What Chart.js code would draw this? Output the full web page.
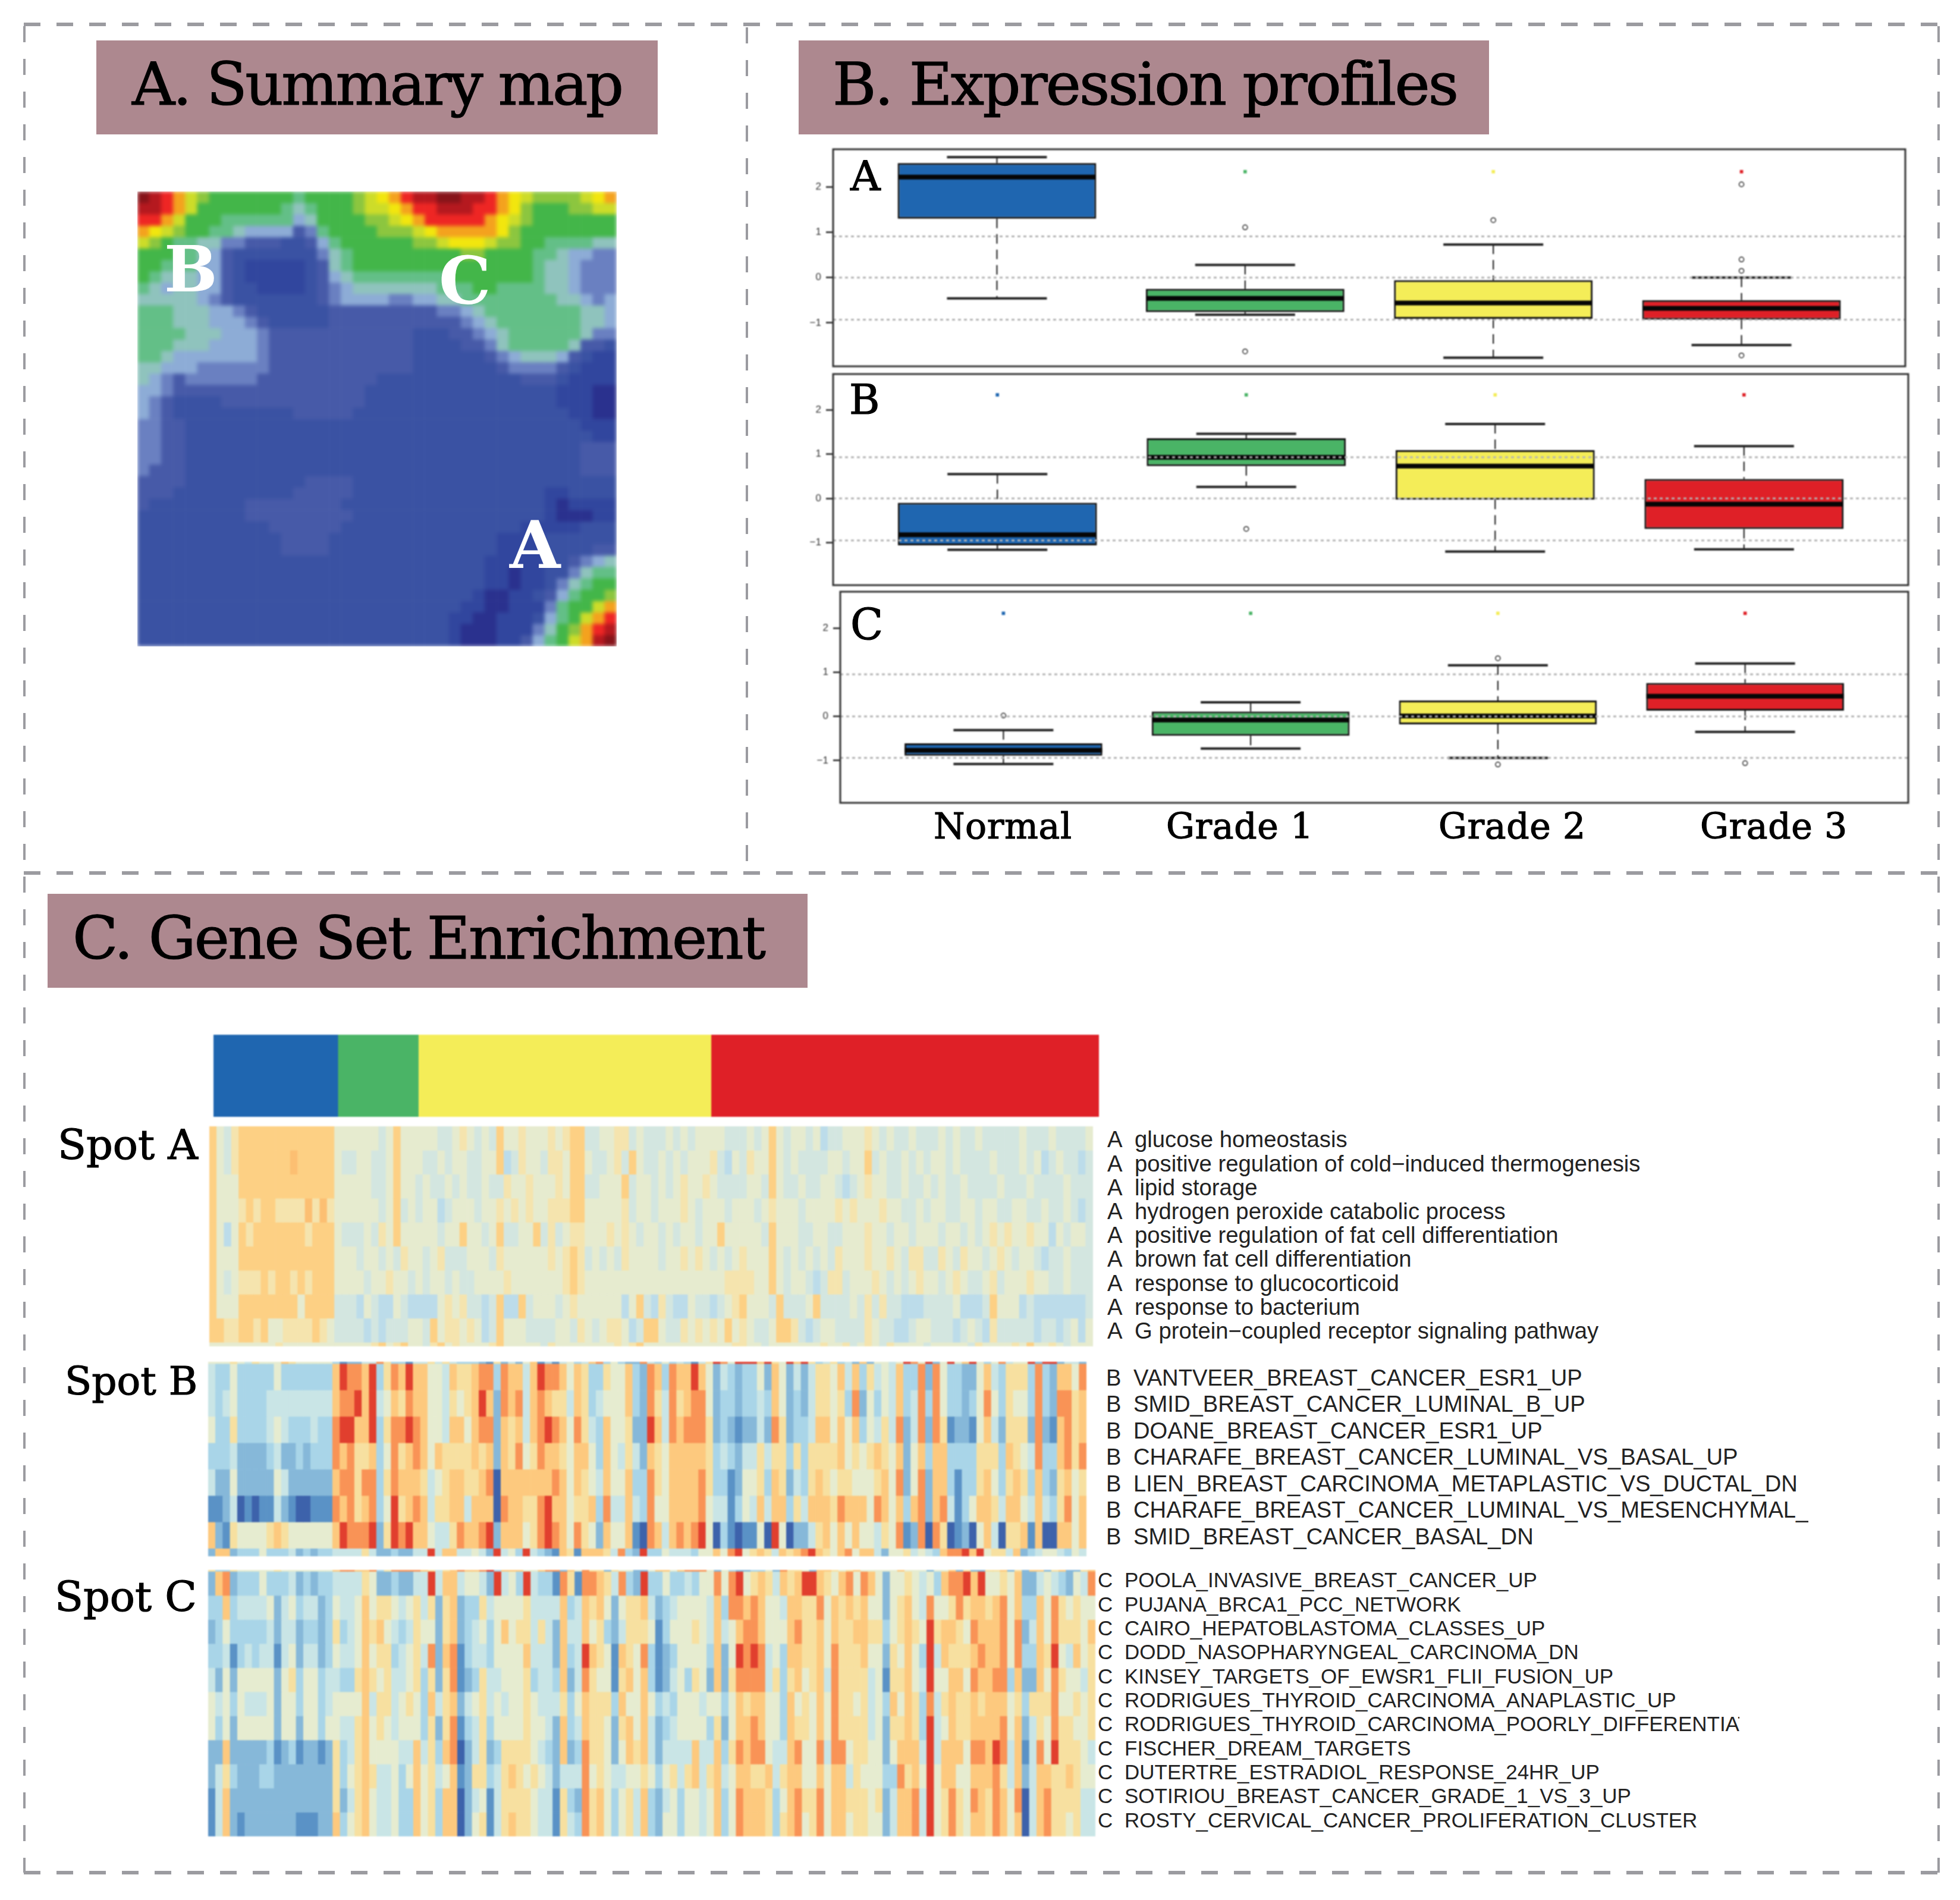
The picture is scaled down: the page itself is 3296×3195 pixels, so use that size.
<!DOCTYPE html>
<html>
<head>
<meta charset="utf-8">
<title>Summary map, expression profiles, gene set enrichment</title>
<script src="https://cdn.jsdelivr.net/npm/chart.js@4"></script>
<style>
  html, body { margin: 0; background: #fff; }
  #page { position: relative; width: 3296px; height: 3195px; overflow: hidden; background: #fff; }
  #page canvas { position: absolute; display: block; filter: blur(1px); }
  #page #mapClip { position: absolute; overflow: hidden; }
  #page #mapClip canvas { filter: blur(3px); }
  #page svg { position: absolute; left: 0; top: 0; }
  .lbl { position: absolute; white-space: nowrap; line-height: 1; color: #000; }
  .serif { font-family: "DejaVu Serif", serif; -webkit-text-stroke: 1.2px #000; }
  .sans { font-family: "Liberation Sans", Arial, sans-serif; color: #222; }
  .band { position: absolute; background: #ad888f; }
</style>
</head>
<body>
<div id="page">
  <svg width="3296" height="3195">
    <g stroke="#9b9ba0" fill="none">
      <path d="M40 41H3260" stroke-width="6" stroke-dasharray="28 27"/>
      <path d="M40 1468H3260" stroke-width="6" stroke-dasharray="28 27"/>
      <path d="M40 3149H3260" stroke-width="6" stroke-dasharray="28 27"/>
      <path d="M41 44V3149" stroke-width="4" stroke-dasharray="27 28"/>
      <path d="M3260 44V3149" stroke-width="4" stroke-dasharray="27 28"/>
      <path d="M1256 46V1468" stroke-width="4" stroke-dasharray="27 28"/>
    </g>
  </svg>
  <div id="mapClip" style="left:231px;top:322px;width:806px;height:765px"></div>
</div>
<script>
// ---- data ----
const groups = ['Normal', 'Grade 1', 'Grade 2', 'Grade 3'];
const groupColors = ['#1f66b0', '#4ab466', '#f4ed58', '#df2027'];
const groupSamples = [17, 11, 40, 53];
const yTicks = [-1, 0, 1, 2];

// expression profiles, one array per statistic
const hiA = [2.66, 0.28, 0.73, 0.0];
const q3A = [2.53, -0.25, -0.06, -0.5];
const medA = [2.22, -0.46, -0.56, -0.68];
const q1A = [1.30, -0.76, -0.91, -0.93];
const loA = [-0.46, -0.82, -1.77, -1.49];
const outA = [[2, 1.11], [2, -1.63], [3, 1.27], [4, 2.06], [4, 0.4], [4, 0.15], [4, -1.72]];
const refA = [0.91, 0, -0.93];

const hiB = [0.55, 1.46, 1.68, 1.18];
const q3B = [-0.10, 1.36, 1.09, 0.44];
const medB = [-0.82, 0.93, 0.73, -0.13];
const q1B = [-1.06, 0.73, -0.03, -0.69];
const loB = [-1.16, 0.26, -1.20, -1.15];
const outB = [[2, -0.69]];
const refB = [0.93, 0, -0.95];

const hiC = [-0.31, 0.32, 1.16, 1.2];
const q3C = [-0.61, 0.11, 0.36, 0.76];
const medC = [-0.77, -0.08, 0.01, 0.46];
const q1C = [-0.89, -0.44, -0.18, 0.13];
const loC = [-1.08, -0.73, -0.94, -0.35];
const outC = [[1, 0.02], [3, 1.32], [3, -1.09], [4, -1.06]];
const refC = [0.955, 0, -0.94];

// summary map, 40 x 40, hex digit = colour level
const mapRows = [
  'fedca98888 888788889a bcdeeffeed cba9999abc',
  'eedca88888 887678889a abcddeeedd cb988899aa',
  'ddca888777 7775688889 9abcdddddc ba98888888',
  'cba9887765 5553478888 999abccccc b988888888',
  'a987766443 3322357888 88899abbba 9988777766',
  '8887765322 2222246788 8888888998 8887765544',
  '8877755321 1111236788 8888888888 8887665444',
  '8766655321 1111235677 7777778888 8887665444',
  '7656655322 1111234566 6666677788 7777665444',
  '6666654322 2222234555 5445566777 7777766545',
  '7776665543 2222223333 3333344567 7777777665',
  '7776665554 3222223333 3333333456 7777777665',
  '7777666555 4333333333 3332223345 6777777644',
  '7776665555 4333333333 3332222334 6777776332',
  '7765555555 4333333333 3332222223 4566653211',
  '6655544444 4333333333 3332222222 3444432111',
  '6543444444 3333333333 2222222222 2233321111',
  '5543333333 3333333332 2222222222 2222211100',
  '5432222333 3333333332 2222222222 2222211100',
  '5432222222 2223333322 2222222222 2222221100',
  '4433222222 2222222222 2222222222 2222222111',
  '4433222222 2222222222 2222222222 2222222211',
  '4433222222 2222222222 2222222222 2222222333',
  '4433222222 2222222222 2222222222 2222222333',
  '4333222222 2222222222 2222222222 2222222333',
  '3333222222 2222333322 2222222222 2222222222',
  '3332222222 2223333322 2222222222 2222112222',
  '3222222223 3333333222 2222222222 2222101111',
  '2222222223 3333333322 2222222222 2222100011',
  '2222222222 2333333222 2222222222 2211111222',
  '2222222222 2233332222 2222222222 1111222222',
  '2222222222 2233332222 2222222222 1111222233',
  '2222222222 2222222222 2222222221 1111223456',
  '2222222222 2222222222 2222222221 1011224677',
  '2222222222 2222222222 2222222221 1011246788',
  '2222222222 2222222222 2222222210 0112357889',
  '2222222222 2222222222 2222222110 01114788ac',
  '2222222222 2222222222 2222221100 1112578acd',
  '2222222222 2222222222 2222221000 1114689cde',
  '2222222222 2222222222 2222221000 113578acef'
];

// spot heatmaps, one string per row, digit = level from blue (0) to red (9)
const spotARows = [
  '7546777777 7777777555 5554575555 5445654547 5565556567 7445566454 4454545555 4445457545 5453445556 5454454445 4544544444 5444544445',
  '7546777777 7877777544 5544575554 4545544557 3465546657 7544564754 4545455564 3546557545 4444554557 4544545455 4544445444 5453454434',
  '7555777777 7777777555 5544575545 4454544544 6556555657 7445557455 4545655654 4445547544 5445543456 5544544545 4454444544 4544445444',
  '7555676776 6668686555 5554574545 5345554556 5656556667 7555556455 4555654555 4555456555 4555565655 5655445455 4455455445 5445445434',
  '7535767777 7776777544 4546575555 5455755457 4455746456 6555656545 5454554557 5555547555 4455445556 5545545554 5545456565 5655354554',
  '7555777777 7777777555 4554546554 5644455546 5555556567 6454546555 5455656545 4565557545 4545465556 5565466446 5465545654 5543445444',
  '7545666767 7676777555 5455655454 5545445555 6555555567 6555555555 5555555555 6666557545 5434664555 6545456554 5654456455 5655445444',
  '7555777777 7757777444 3543354333 3565644347 3374555456 5555553574 3643354434 5675554744 4574444546 4644333444 4533347555 3433333334',
  '7766776755 6666765444 4343444554 7566565347 5554444554 6545665347 7544656565 7565445776 4345544446 5443345544 4345436444 4434434535',
  '5555555556 5555555555 5567567554 6756555567 5555546555 5555565675 5555555555 5665545555 5556556456 5465555455 5554655556 5755654555'
];
const spotBRows = [
  '5556546555 7655555312 2448633144 6464333216 2425713145 3478353228 4353431469 8599979659 7963463427 2554598592 5957953584 5592992442',
  '4335333335 3333333798 8793687977 5547667883 8774798875 7633655732 8738779752 4323352752 4246657473 6454733828 5332257436 6638327758',
  '4345333344 4444444788 9794576877 5546567972 8784787664 7634555732 8648678852 3323343752 3246656382 5354734838 5332358536 5538328867',
  '5336333345 4333433899 7793688987 5547757882 7674789875 8643755622 9748788862 3212242862 3347757573 5464824828 6122157426 6628217867',
  '3334222234 2232333878 6673586787 5766667672 7685687765 7753754642 7657777763 4324464663 6366667565 6765725737 7333366637 6548337868',
  '4225222225 4222222788 6883687776 4567766780 7777777875 7654755733 8657777863 3125563762 4367656655 5675825827 7313367536 7637326756',
  '1124010114 2100111878 6783596787 4667747770 8776689775 6673844743 8557777854 4135474773 6477768777 5875737827 8413577647 7547436857',
  '7216555567 6555555798 8892698977 5446877892 7775689875 8652755710 8747878950 3101150950 2246757575 5465812808 6012057406 6717007757',
  '2772333533 3423233444 4642232244 9477445429 4539432176 1777648329 3354443557 5895676476 7897657857 7425564543 7889795664 7234554354'
];
const spotCRows = [
  '6336555556 5555555788 7783688887 6467877893 7775578827 5866265522 5775788852 5322335286 6527765675 5555755525 5726226672 6277267226 7',
  '2782333533 3423233444 4652232244 9477455429 4539433186 1887648329 3353343558 5895676476 7997657858 7525565453 7889795565 7224543254 8',
  '3373444452 4534423544 5756654564 6267233645 5556444473 4767525667 4234555547 3887875547 7668576767 5525675485 5686776785 7337586565 5',
  '2353333342 4423323634 5767543465 5267234535 7566464274 4756324666 5135556547 4578875557 8667576677 6635676596 7765877785 8247586665 7',
  '3341343441 4524423544 5756634564 8278134435 5557444273 4976517658 3123555537 2598984537 7667586667 5526575394 7666787785 8337695475 6',
  '4252555552 5635534433 6765644563 6268123644 5556344372 4865516757 3124536527 2688884636 7567486666 4516675495 5775877883 7227586554 6',
  '5453544452 5535534555 5746645653 7467245645 4556544463 5766637557 5343555455 3576775537 5657586656 4537576384 6766767775 6366685565 6',
  '5352555552 5525535544 6756545553 6268134635 5556554273 4766526757 4234555536 2577875537 6657586666 4526676394 5766777785 7246586655 6',
  '2272222231 2312212634 6755554474 6378024623 6666543272 3866525767 4244447447 3687885447 8558488566 5525777494 7775887984 7148596665 4',
  '2463222332 2222222635 6764453575 6457126634 6765654244 4856544556 5356467467 4577667467 7557577465 5533867595 7755777864 7247766765 5',
  '1472222222 2222222624 6754453375 6377024514 6666544163 2867535647 3245355457 3587776357 8668577666 5624778495 6865876875 8047866664 4',
  '1472122222 2211122735 6754453375 6377025614 6766544164 3867535647 3255355457 3587776367 8568577566 5524778495 6865776875 7047866564 4'
];

const spotALabels = ['glucose homeostasis', 'positive regulation of cold\u2212induced thermogenesis', 'lipid storage',
  'hydrogen peroxide catabolic process', 'positive regulation of fat cell differentiation', 'brown fat cell differentiation',
  'response to glucocorticoid', 'response to bacterium', 'G protein\u2212coupled receptor signaling pathway'];
const spotBLabels = ['VANTVEER_BREAST_CANCER_ESR1_UP', 'SMID_BREAST_CANCER_LUMINAL_B_UP', 'DOANE_BREAST_CANCER_ESR1_UP',
  'CHARAFE_BREAST_CANCER_LUMINAL_VS_BASAL_UP', 'LIEN_BREAST_CARCINOMA_METAPLASTIC_VS_DUCTAL_DN',
  'CHARAFE_BREAST_CANCER_LUMINAL_VS_MESENCHYMAL_', 'SMID_BREAST_CANCER_BASAL_DN'];
const spotCLabels = ['POOLA_INVASIVE_BREAST_CANCER_UP', 'PUJANA_BRCA1_PCC_NETWORK', 'CAIRO_HEPATOBLASTOMA_CLASSES_UP',
  'DODD_NASOPHARYNGEAL_CARCINOMA_DN', 'KINSEY_TARGETS_OF_EWSR1_FLII_FUSION_UP', 'RODRIGUES_THYROID_CARCINOMA_ANAPLASTIC_UP',
  'RODRIGUES_THYROID_CARCINOMA_POORLY_DIFFERENTIAT', 'FISCHER_DREAM_TARGETS', 'DUTERTRE_ESTRADIOL_RESPONSE_24HR_UP',
  'SOTIRIOU_BREAST_CANCER_GRADE_1_VS_3_UP', 'ROSTY_CERVICAL_CANCER_PROLIFERATION_CLUSTER'];

// ---- colours ----
const mapColors = ['#2a318e', '#31469e', '#3a52a3', '#475aa8', '#6a80c1', '#8dacd6', '#8fc3bd', '#63bf87',
  '#43b649', '#8cc63f', '#cddc29', '#f2e60e', '#f4a21e', '#ee2624', '#b5191f', '#87141a'];
const spotColors = ['#3d62ab', '#5a92c6', '#86b8d9', '#a9d5e8', '#c9e5e6', '#e6ecd0', '#f7e0a0', '#fdc97e', '#f99356', '#e13f2e'];
const paleColors = ['#3d62ab', '#5a92c6', '#86b8d9', '#bcdcea', '#d3e6e0', '#e6ebcf', '#f5e4ae', '#fdd084', '#fcbf72', '#e13f2e'];

// ---- helpers ----
const page = document.getElementById('page');
Chart.defaults.animation = false;
Chart.defaults.devicePixelRatio = 1;

function addCanvas(x, y, w, h, parent) {
  const c = document.createElement('canvas');
  c.width = w;
  c.height = h;
  c.style.left = x + 'px';
  c.style.top = y + 'px';
  c.style.width = w + 'px';
  c.style.height = h + 'px';
  (parent || page).appendChild(c);
  return c;
}

function label(text, x, baseline, size, cls, extra) {
  const d = document.createElement('div');
  d.className = 'lbl ' + cls;
  d.textContent = text;
  d.style.left = x + 'px';
  // line-height 1, so the baseline sits about 0.85em below the top
  d.style.top = (baseline - size * 0.85) + 'px';
  d.style.fontSize = size + 'px';
  if (extra) Object.assign(d.style, extra);
  page.appendChild(d);
  return d;
}

// stacked bars, one dataset per row, one colour per column
function heatmap(rect, rows, weights, palette, radix, parent) {
  const cells = rows.map(r => r.replace(/ /g, '').split('').map(ch => parseInt(ch, radix)));
  const nCols = cells[0].length;
  const total = weights.reduce((a, b) => a + b, 0);
  return new Chart(addCanvas(rect.x, rect.y, rect.w, rect.h, parent), {
    type: 'bar',
    data: {
      labels: Array.from({ length: nCols }, (_, i) => i),
      datasets: cells.map((row, r) => ({
        data: row.map(() => weights[r]),
        backgroundColor: row.map(v => palette[v]),
        borderWidth: 0,
        barPercentage: 1,
        categoryPercentage: 1
      }))
    },
    options: {
      responsive: false,
      layout: { padding: 0 },
      plugins: { legend: { display: false }, tooltip: { enabled: false } },
      scales: {
        x: { display: false, stacked: true },
        y: { display: false, stacked: true, reverse: true, min: 0, max: total }
      }
    }
  });
}

const framePlugin = {
  id: 'frame',
  afterDraw(chart) {
    const a = chart.chartArea;
    const ctx = chart.ctx;
    ctx.save();
    ctx.strokeStyle = '#333';
    ctx.lineWidth = 3;
    ctx.strokeRect(a.left, a.top, a.right - a.left, a.bottom - a.top);
    ctx.restore();
  }
};

function boxPanel(rect, hi, q3, med, q1, lo, outliers, refs, yMin, yMax) {
  const axisW = 60;
  const pad = 3;
  const pos = groups.map((_, i) => i + 1);
  const whiskers = [];
  pos.forEach((x, i) => {
    whiskers.push({ x, y: hi[i] }, { x, y: q3[i] }, { x, y: null });
    whiskers.push({ x, y: q1[i] }, { x, y: lo[i] }, { x, y: null });
  });
  const xMin = 0.34, xMax = 4.66;
  const datasets = refs.map(v => ({
    type: 'line',
    data: [{ x: xMin, y: v }, { x: xMax, y: v }],
    borderColor: '#b4b4b4',
    borderWidth: 3,
    borderDash: [5, 5],
    pointRadius: 0,
    order: 0
  }));
  datasets.push({
    type: 'line',
    data: outliers.map(o => ({ x: o[0], y: o[1] })),
    showLine: false,
    pointStyle: 'circle',
    pointRadius: 4,
    pointBackgroundColor: '#fff',
    pointBorderColor: '#222',
    pointBorderWidth: 1.5,
    order: 1
  });
  datasets.push({
    type: 'line',
    data: med.map((v, i) => ({ x: pos[i], y: v })),
    showLine: false,
    pointStyle: 'line',
    pointRadius: 166,
    pointBorderColor: '#060606',
    pointBorderWidth: 8,
    order: 1
  });
  datasets.push({
    type: 'line',
    data: hi.concat(lo).map((v, i) => ({ x: pos[i % 4], y: v })),
    showLine: false,
    pointStyle: 'line',
    pointRadius: 84,
    pointBorderColor: '#222',
    pointBorderWidth: 4,
    order: 2
  });
  datasets.push({
    type: 'bar',
    data: pos.map((x, i) => ({ x, y: [q1[i], q3[i]] })),
    backgroundColor: groupColors,
    borderColor: '#111',
    borderWidth: 3,
    borderSkipped: false,
    barPercentage: 0.8,
    categoryPercentage: 1,
    grouped: false,
    order: 3
  });
  datasets.push({
    type: 'line',
    data: whiskers,
    borderColor: '#111',
    borderWidth: 2,
    borderDash: [16, 10],
    pointRadius: 0,
    spanGaps: false,
    order: 4
  });
  // the small coloured tick above each group
  datasets.push({
    type: 'line',
    data: pos.map(x => ({ x, y: 2.34 })),
    showLine: false,
    pointStyle: 'rect',
    pointRadius: 4,
    pointBackgroundColor: groupColors,
    pointBorderWidth: 0,
    order: 5
  });
  return new Chart(addCanvas(rect.l - axisW, rect.t - pad, rect.r - rect.l + axisW + pad, rect.b - rect.t + 2 * pad), {
    data: { datasets },
    plugins: [framePlugin],
    options: {
      responsive: false,
      // big point radii are used as line lengths, they must not shrink the area
      layout: { autoPadding: false, padding: { top: pad, bottom: pad, right: pad } },
      plugins: { legend: { display: false }, tooltip: { enabled: false } },
      scales: {
        x: {
          type: 'linear',
          display: false,
          offset: false,
          min: xMin,
          max: xMax,
          // bar width comes from the spacing of these ticks
          afterBuildTicks(s) { s.ticks = pos.map(value => ({ value })); }
        },
        y: {
          type: 'linear',
          min: yMin,
          max: yMax,
          afterFit(s) { s.width = axisW; s.paddingTop = 0; s.paddingBottom = 0; },
          afterBuildTicks(s) { s.ticks = yTicks.map(value => ({ value })); },
          border: { display: false },
          grid: { drawOnChartArea: false, drawTicks: true, tickLength: 12, color: '#444', lineWidth: 3 },
          ticks: {
            padding: 8,
            color: '#333',
            font: { family: '"Liberation Sans"', size: 17 },
            callback: v => String(v).replace('-', '\u2212')
          }
        }
      }
    }
  });
}

// ---- panel A ----
heatmap({ x: 0, y: 0, w: 806, h: 765 }, mapRows, mapRows.map(() => 1), mapColors, 16, document.getElementById('mapClip'));

// ---- panel B ----
boxPanel({ l: 1401, t: 251, r: 3204, b: 616 }, hiA, q3A, medA, q1A, loA, outA, refA, -1.96, 2.835);
boxPanel({ l: 1401, t: 629, r: 3209, b: 984 }, hiB, q3B, medB, q1B, loB, outB, refB, -1.96, 2.81);
boxPanel({ l: 1413, t: 995, r: 3209, b: 1350 }, hiC, q3C, medC, q1C, loC, outC, refC, -1.96, 2.83);

// ---- panel C: group strip ----
new Chart(addCanvas(359, 1740, 1489, 138), {
  type: 'bar',
  data: {
    labels: ['samples'],
    datasets: groups.map((g, i) => ({
      label: g,
      data: [groupSamples[i]],
      backgroundColor: groupColors[i],
      borderWidth: 0,
      barPercentage: 1,
      categoryPercentage: 1
    }))
  },
  options: {
    indexAxis: 'y',
    responsive: false,
    plugins: { legend: { display: false }, tooltip: { enabled: false } },
    scales: {
      x: { display: false, stacked: true, min: 0, max: groupSamples.reduce((a, b) => a + b, 0) },
      y: { display: false, stacked: true }
    }
  }
});

// ---- panel C: spots ----
heatmap({ x: 352, y: 1894, w: 1486, h: 370 }, spotARows, [1, 1, 1, 1, 1, 1, 1, 1, 1, 0.17], paleColors, 10);
heatmap({ x: 350, y: 2290, w: 1477, h: 327 }, spotBRows, [0.07, 1, 1, 1, 1, 1, 1, 1, 0.3], spotColors, 10);
heatmap({ x: 350, y: 2640, w: 1492, h: 448 }, spotCRows, [0.06, 1, 1, 1, 1, 1, 1, 1, 1, 1, 1, 1], spotColors, 10);

// ---- text ----
function band(x, y, w, h) {
  const d = document.createElement('div');
  d.className = 'band';
  Object.assign(d.style, { left: x + 'px', top: y + 'px', width: w + 'px', height: h + 'px' });
  page.appendChild(d);
}
band(162, 68, 944, 158);
band(1343, 68, 1161, 158);
band(80, 1503, 1278, 158);
label('A. Summary map', 222, 177, 100, 'serif', { letterSpacing: '-3.5px' });
label('B. Expression profiles', 1400, 177, 100, 'serif', { letterSpacing: '-2.8px' });
label('C. Gene Set Enrichment', 122, 1613, 100, 'serif', { letterSpacing: '-2.9px' });

const mapWhite = { color: '#fff', fontWeight: 'bold', webkitTextStroke: '0' };
label('B', 276, 490, 106, 'serif', mapWhite);
label('C', 738, 510, 110, 'serif', mapWhite);
label('A', 857, 955, 110, 'serif', mapWhite);

label('A', 1430, 320, 70, 'serif');
label('B', 1428, 696, 70, 'serif');
label('C', 1430, 1076, 72, 'serif');

const groupLeft = [1570, 1961, 2419, 2859];
groups.forEach((g, i) => label(g, groupLeft[i], 1410, 60, 'serif', { letterSpacing: '0.6px' }));

label('Spot A', 97, 1949, 70, 'serif');
label('Spot B', 109, 2346, 66, 'serif');
label('Spot C', 92, 2709, 70, 'serif');

const clipB = 'polygon(0 -30%, 1135px -30%, 1135px 130%, 0 130%)';
const clipC = 'polygon(0 -30%, 1034px -30%, 1034px 130%, 0 130%)';
spotALabels.forEach((t, i) => {
  label('A', 1862, 1930 + i * 40.2, 38.3, 'sans');
  label(t, 1908, 1930 + i * 40.2, 38.3, 'sans');
});
spotBLabels.forEach((t, i) => {
  label('B', 1860, 2330 + i * 44.5, 38.2, 'sans');
  label(t, 1906, 2330 + i * 44.5, 38.2, 'sans', { clipPath: clipB });
});
spotCLabels.forEach((t, i) => {
  label('C', 1846, 2669 + i * 40.35, 35, 'sans');
  label(t, 1891, 2669 + i * 40.35, 35, 'sans', { clipPath: clipC });
});
</script>
</body>
</html>
